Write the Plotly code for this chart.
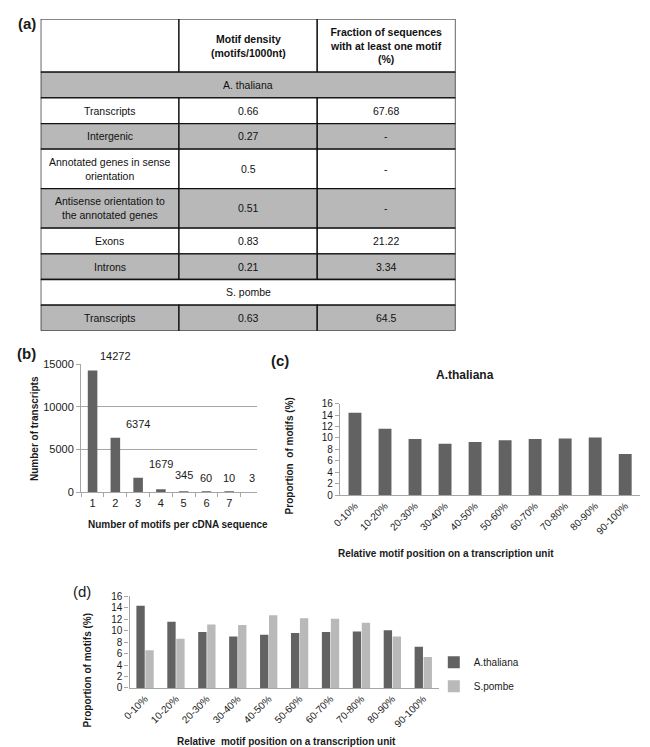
import plotly.graph_objects as go

W, H = 650, 747

# ---------------- data ----------------
table_header = ["", "Motif density<br>(motifs/1000nt)", "Fraction of sequences<br>with at least one motif<br>(%)"]
table_rows = [
    ("section", "A. thaliana"),
    ("row", "Transcripts", "0.66", "67.68"),
    ("row", "Intergenic", "0.27", "-"),
    ("row", "Annotated genes in sense<br>orientation", "0.5", "-"),
    ("row", "Antisense orientation to<br>the annotated genes", "0.51", "-"),
    ("row", "Exons", "0.83", "21.22"),
    ("row", "Introns", "0.21", "3.34"),
    ("section", "S. pombe"),
    ("row", "Transcripts", "0.63", "64.5"),
]

motif_counts = ["1", "2", "3", "4", "5", "6", "7"]
transcript_numbers = [14272, 6374, 1679, 345, 60, 10, 3]

position_bins = ["0-10%", "10-20%", "20-30%", "30-40%", "40-50%",
                 "50-60%", "60-70%", "70-80%", "80-90%", "90-100%"]
athaliana_prop = [14.4, 11.6, 9.8, 9.0, 9.3, 9.6, 9.8, 9.9, 10.1, 7.2]
spombe_prop = [6.6, 8.6, 11.1, 11.0, 12.7, 12.2, 12.1, 11.4, 9.0, 5.4]

# ---------------- style ----------------
DARK = "#626262"
LIGHT = "#b9b9b9"
GRAY_FILL = "#b8b8b8"
AXIS = "#a6a6a6"
FONT = "Liberation Sans, Arial, sans-serif"
NARROW = "Liberation Sans Narrow, Arial Narrow, Liberation Sans, sans-serif"

def px(x):
    return x / W

def py(y):
    return 1 - y / H

fig = go.Figure()

# (b)
fig.add_trace(go.Bar(x=motif_counts, y=transcript_numbers, marker_color=DARK,
                     marker_line_width=0, width=0.42, xaxis="x", yaxis="y",
                     showlegend=False))
# (c)
fig.add_trace(go.Bar(x=position_bins, y=athaliana_prop, marker_color=DARK,
                     marker_line_width=0, width=0.43, xaxis="x2", yaxis="y2",
                     showlegend=False))
# (d)
fig.add_trace(go.Bar(x=position_bins, y=athaliana_prop, marker_color=DARK,
                     marker_line_width=0, width=0.27, offset=-0.28,
                     xaxis="x3", yaxis="y3", name="A.thaliana", legendgroup="a"))
fig.add_trace(go.Bar(x=position_bins, y=spombe_prop, marker_color=LIGHT,
                     marker_line_width=0, width=0.27, offset=0.01,
                     xaxis="x3", yaxis="y3", name="S.pombe", legendgroup="s"))

tickfont = dict(family=FONT, size=10, color="#1a1a1a")

def yax(domain, rng, dtick, anchor, grid=False, size=10):
    return dict(domain=domain, range=rng, dtick=dtick, anchor=anchor,
                showgrid=grid, gridcolor=AXIS, gridwidth=1.3, zeroline=False,
                showline=True, linecolor=AXIS, linewidth=1.3,
                ticks="outside", ticklen=4, tickcolor=AXIS, tickformat="d",
                tickfont=dict(family=FONT, size=size, color="#1a1a1a"),
                fixedrange=True)

annotations = []
shapes = []

layout = dict(
    width=W, height=H, margin=dict(l=0, r=0, t=0, b=0),
    paper_bgcolor="white", plot_bgcolor="white",
    barmode="overlay",
    font=dict(family=FONT, color="#1a1a1a"),
    xaxis=dict(domain=[px(66), px(244)], type="category", anchor="y",
               showline=True, linecolor=AXIS, linewidth=1.3,
               ticks="outside", tickson="boundaries", ticklen=4,
               tickcolor=AXIS, tickfont=dict(family=FONT, size=11, color="#1a1a1a"),
               showgrid=False, fixedrange=True),
    yaxis=yax([py(486), py(356)], [0, 15000], 5000, "x", grid=True, size=11),
    xaxis2=dict(domain=[px(328), px(632)], type="category", anchor="y2",
                showline=True, linecolor=AXIS, linewidth=1.3, ticks="",
                tickangle=-45, tickfont=tickfont, showgrid=False, fixedrange=True),
    yaxis2=yax([py(489), py(396)], [0, 16], 2, "x2"),
    xaxis3=dict(domain=[px(115), px(428)], type="category", anchor="y3",
                showline=True, linecolor=AXIS, linewidth=1.3, ticks="",
                tickangle=-45, tickfont=tickfont, showgrid=False, fixedrange=True),
    yaxis3=yax([py(685), py(592)], [0, 16], 2, "x3"),
    xaxis4=dict(domain=[px(25), px(445)], range=[0, 3], anchor="y4",
                visible=False, fixedrange=True),
    yaxis4=dict(domain=[py(322), py(5)], range=[316, 0], anchor="x4",
                visible=False, fixedrange=True),
    legend=dict(x=px(423), y=py(644), xanchor="left", yanchor="top",
                font=dict(family=FONT, size=10, color="#1a1a1a"),
                bgcolor="rgba(0,0,0,0)", tracegroupgap=5, itemwidth=30),
    showlegend=True,
)

# ---------------- table (a) ----------------
row_heights = [54, 26, 26, 26, 40, 40, 26, 26, 26, 26]
y0 = 0
cells = []
cells.append((y0, y0 + row_heights[0], "white", [(0, 1, table_header[0], False),
                                                  (1, 2, table_header[1], True),
                                                  (2, 3, table_header[2], True)]))
y0 += row_heights[0]
for i, r in enumerate(table_rows):
    h = row_heights[i + 1]
    fill = GRAY_FILL if i % 2 == 0 else "white"
    if r[0] == "section":
        cells.append((y0, y0 + h, fill, [(0, 3, r[1], False)]))
    else:
        cells.append((y0, y0 + h, fill, [(0, 1, r[1], False), (1, 2, r[2], False),
                                         (2, 3, r[3], False)]))
    y0 += h

for (ya, yb, fill, parts) in cells:
    for (xa, xb, txt, bold) in parts:
        shapes.append(dict(type="rect", xref="x4", yref="y4", x0=xa, x1=xb,
                           y0=ya, y1=yb, fillcolor=fill,
                           line=dict(color="#111111", width=1.3), layer="below"))
        if txt:
            annotations.append(dict(xref="x4", yref="y4", x=(xa + xb) / 2,
                                    y=(ya + yb) / 2, text=(f"<b>{txt}</b>" if bold else txt),
                                    showarrow=False, align="center",
                                    font=dict(family=FONT, size=10.5, color="#111111")))

# ---------------- (b) data labels ----------------
for c, v in zip(motif_counts, transcript_numbers):
    annotations.append(dict(xref="x", yref="y", x=c, y=v, yshift=14,
                            text=str(v), showarrow=False,
                            font=dict(family=FONT, size=11, color="#1a1a1a")))

# ---------------- titles / labels ----------------
def ann(x, y, text, size=10, bold=True, angle=0):
    annotations.append(dict(xref="paper", yref="paper", x=px(x), y=py(y),
                            xanchor="center", yanchor="middle",
                            text=(f"<b>{text}</b>" if bold else text),
                            textangle=angle, showarrow=False,
                            font=dict(family=FONT, size=size, color="#1a1a1a")))

ann(11, 10, "(a)", size=15, bold=True)
ann(11, 345, "(b)", size=15, bold=True)
ann(267, 352, "(c)", size=15, bold=True)
ann(67, 587, "(d)", size=15, bold=False)

ann(164, 519, "Number of motifs per cDNA sequence")
ann(18, 421, "Number of transcripts", angle=-90)
ann(455, 367, "A.thaliana", size=12)
ann(435, 548, "Relative motif position on a transcription unit")
ann(277, 449, "Proportion  of motifs (%)", angle=-90)
ann(274, 739, "Relative  motif position on a transcription unit")
ann(72, 667, "Proportion of motifs (%)", angle=-90)

layout["annotations"] = annotations
layout["shapes"] = shapes
fig.update_layout(**layout)

fig.write_html("out.html")
